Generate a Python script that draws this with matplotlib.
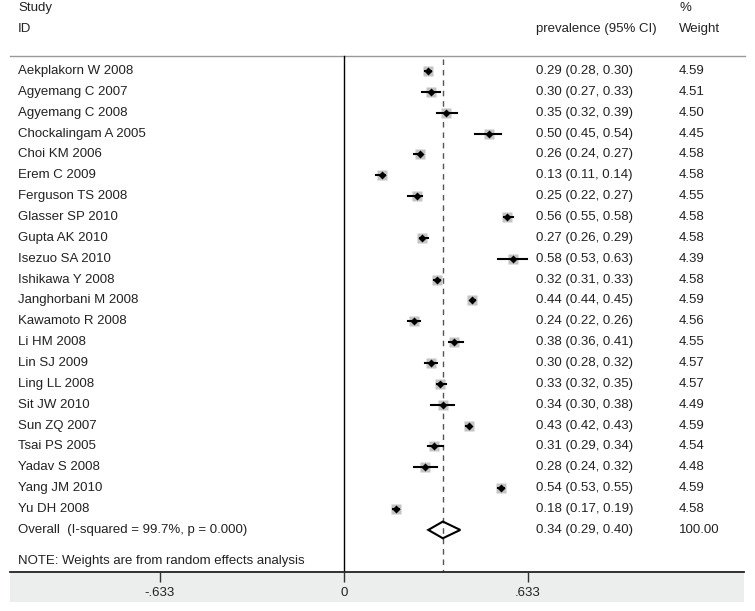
import numpy as np
import matplotlib
matplotlib.use("Agg")
import matplotlib.pyplot as plt
from matplotlib.patches import Polygon

plt.rcParams['font.family'] = ['Liberation Sans', 'DejaVu Sans']

studies = ["Aekplakorn W 2008", "Agyemang C 2007", "Agyemang C 2008", "Chockalingam A 2005",
           "Choi KM 2006", "Erem C 2009", "Ferguson TS 2008", "Glasser SP 2010", "Gupta AK 2010",
           "Isezuo SA 2010", "Ishikawa Y 2008", "Janghorbani M 2008", "Kawamoto R 2008",
           "Li HM 2008", "Lin SJ 2009", "Ling LL 2008", "Sit JW 2010", "Sun ZQ 2007",
           "Tsai PS 2005", "Yadav S 2008", "Yang JM 2010", "Yu DH 2008"]
est = [0.29, 0.30, 0.35, 0.50, 0.26, 0.13, 0.25, 0.56, 0.27, 0.58, 0.32,
       0.44, 0.24, 0.38, 0.30, 0.33, 0.34, 0.43, 0.31, 0.28, 0.54, 0.18]
lo = [0.28, 0.27, 0.32, 0.45, 0.24, 0.11, 0.22, 0.55, 0.26, 0.53, 0.31,
      0.44, 0.22, 0.36, 0.28, 0.32, 0.30, 0.42, 0.29, 0.24, 0.53, 0.17]
hi = [0.30, 0.33, 0.39, 0.54, 0.27, 0.14, 0.27, 0.58, 0.29, 0.63, 0.33,
      0.45, 0.26, 0.41, 0.32, 0.35, 0.38, 0.43, 0.34, 0.32, 0.55, 0.19]
weights = [4.59, 4.51, 4.50, 4.45, 4.58, 4.58, 4.55, 4.58, 4.58, 4.39, 4.58,
           4.59, 4.56, 4.55, 4.57, 4.57, 4.49, 4.59, 4.54, 4.48, 4.59, 4.58]
overall = (0.34, 0.29, 0.40, 100.00)
overall_label = "Overall  (I-squared = 99.7%, p = 0.000)"
note = "NOTE: Weights are from random effects analysis"
xticks = [-0.633, 0, 0.633]
xticklabels = ["-.633", "0", ".633"]

W, H = 755, 611
x0px, unitpx = 344, 290.7      # pixel of 0 and pixels per unit
row0px, rowpx = 71, 20.86
fs = 9.5
tc = "#222222"

fig = plt.figure(figsize=(W / 100, H / 100), dpi=100)
bottom_px = 572
ax = fig.add_axes([0, (H - bottom_px) / H, 1, bottom_px / H])
ax.set_xlim(-x0px / unitpx, (W - x0px) / unitpx)
ax.set_ylim((bottom_px - row0px) / rowpx, -row0px / rowpx)
ax.axis("off")

n = len(studies)
tr_x = matplotlib.transforms.blended_transform_factory(ax.transAxes, ax.transData)

# header
ax.text(18 / W, -3, "Study", transform=tr_x, fontsize=fs, color=tc, va="center")
ax.text(18 / W, -2, "ID", transform=tr_x, fontsize=fs, color=tc, va="center")
ax.text(536 / W, -2, "prevalence (95% CI)", transform=tr_x, fontsize=fs, color=tc, va="center")
ax.text(679 / W, -3, "%", transform=tr_x, fontsize=fs, color=tc, va="center")
ax.text(679 / W, -2, "Weight", transform=tr_x, fontsize=fs, color=tc, va="center")
top_y = -0.72
ax.plot([10 / W, 745 / W], [top_y, top_y], transform=tr_x, color="#999999", lw=1)

# reference lines
ax.plot([0, 0], [top_y, ax.get_ylim()[0]], color="black", lw=1)
ax.plot([overall[0], overall[0]], [top_y + 0.15, ax.get_ylim()[0]], color="#555555",
        lw=1, dashes=(4, 3.5))

# studies
for i in range(n):
    ax.plot([lo[i], hi[i]], [i, i], color="black", lw=1.5, zorder=3)
    ms = 7.2 * np.sqrt(weights[i] / max(weights))
    ax.plot(est[i], i, marker="s", ms=ms, color="#c4c4c4", mec="none", zorder=2)
    ax.plot(est[i], i, marker="D", ms=4, color="black", mec="none", zorder=4)
    ax.text(18 / W, i, studies[i], transform=tr_x, fontsize=fs, color=tc, va="center")
    ax.text(536 / W, i, f"{est[i]:.2f} ({lo[i]:.2f}, {hi[i]:.2f})", transform=tr_x,
            fontsize=fs, color=tc, va="center")
    ax.text(679 / W, i, f"{weights[i]:.2f}", transform=tr_x, fontsize=fs, color=tc, va="center")

# overall diamond
oy = n
e, l, h, w = overall
dh = 0.4
ax.add_patch(Polygon([[l, oy], [e, oy - dh], [h, oy], [e, oy + dh]], closed=True,
                     fill=False, edgecolor="black", lw=1.5, zorder=5))
ax.text(18 / W, oy, overall_label, transform=tr_x, fontsize=fs, color=tc, va="center")
ax.text(536 / W, oy, f"{e:.2f} ({l:.2f}, {h:.2f})", transform=tr_x, fontsize=fs, color=tc, va="center")
ax.text(679 / W, oy, f"{w:.2f}", transform=tr_x, fontsize=fs, color=tc, va="center")
ax.text(18 / W, oy + 1.5, note, transform=tr_x, fontsize=fs, color=tc, va="center")

# bottom axis band
bx0, bx1 = 10, 744
bax = fig.add_axes([bx0 / W, (H - 602) / H, (bx1 - bx0) / W, 30 / H])
bax.set_facecolor("#eceeee")
bax.set_xlim((bx0 - x0px) / unitpx, (bx1 - x0px) / unitpx)
bax.set_ylim(0, 1)
bax.set_yticks([])
bax.set_xticks(xticks)
bax.set_xticklabels(xticklabels)
for s in ["left", "right", "bottom"]:
    bax.spines[s].set_visible(False)
bax.spines["top"].set_color("#222222")
bax.spines["top"].set_linewidth(1.3)
bax.tick_params(axis="x", bottom=False, top=True, direction="in", length=7, width=1,
                color="#333333", labelbottom=True, pad=-10.5, labelsize=fs, labelcolor=tc)

fig.savefig("out.png", dpi=100)
